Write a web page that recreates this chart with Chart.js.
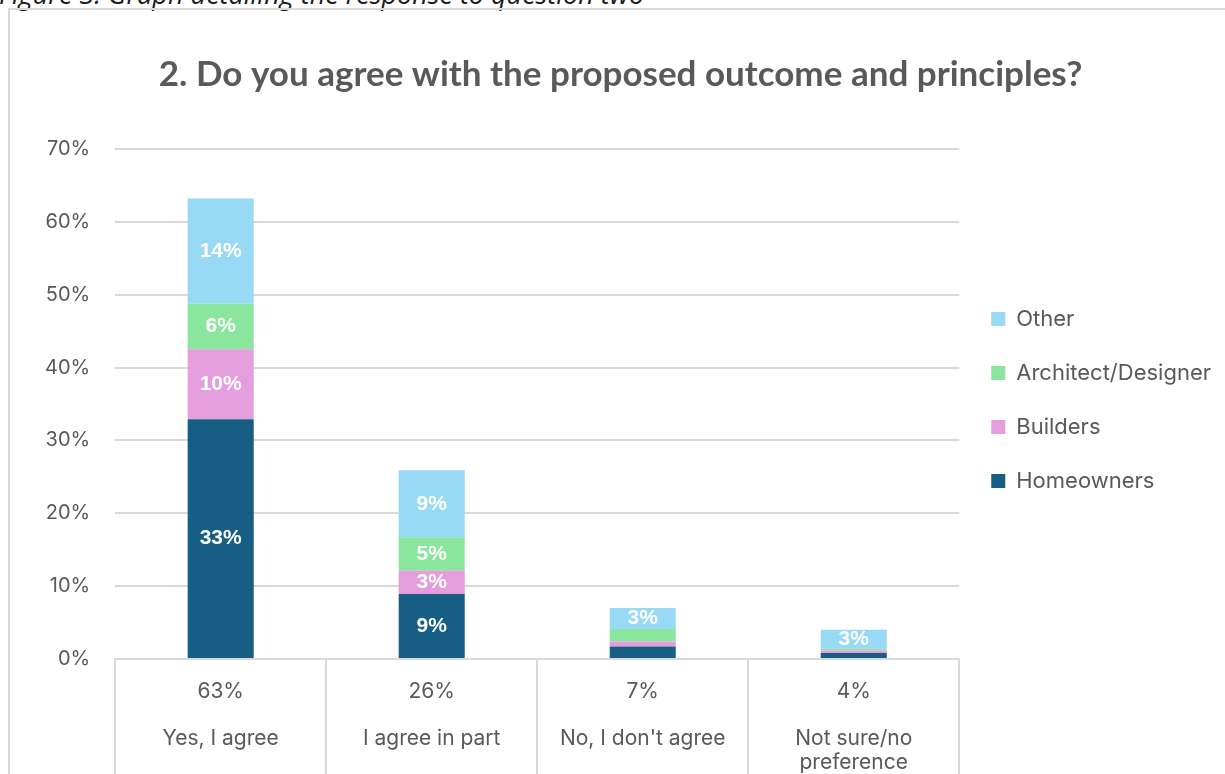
<!DOCTYPE html>
<html lang="en">
<head>
  <meta charset="UTF-8" />
  <title>Question two responses</title>
  <script src="https://cdn.jsdelivr.net/npm/chart.js"></script>
  <style>
    html, body {
      margin: 0;
      overflow: hidden;
      background: #fff;
    }
    .caption {
      position: absolute;
      left: -1px;
      top: -19px;
      font-family: "Open Sans", sans-serif;
      font-style: italic;
      font-size: 27px;
      line-height: 26px;
      color: #1a1a1a;
      white-space: nowrap;
    }
    .frame {
      position: absolute;
      left: 8px;
      top: 8px;
      width: 1300px;
      height: 900px;
      border: 2px solid #d9d9d9;
    }
    .chart-box {
      position: absolute;
      left: 0;
      top: 0;
      width: 1225px;
      height: 787px;
    }
  </style>
</head>
<body>
<div class="caption">Figure 3: Graph detailing the response to question two</div>
<div class="frame"></div>
<div class="chart-box">
  <canvas id="agreeChart"></canvas>
</div>

<script>
  // answers and share of respondents (%) per group
  const answers = ['Yes, I agree', 'I agree in part', "No, I don't agree", ['Not sure/no', 'preference']];
  const homeowners = [32.9, 8.9, 1.7, 0.8];
  const builders = [9.6, 3.2, 0.7, 0.35];
  const architects = [6.3, 4.6, 1.7, 0.25];
  const other = [14.4, 9.2, 2.9, 2.6];

  const yTicks = [0, 10, 20, 30, 40, 50, 60, 70];
  const grey = '#595959';
  const lineGrey = '#d9d9d9';

  // total per answer goes on the first line of the axis label
  const totals = answers.map((a, i) => homeowners[i] + builders[i] + architects[i] + other[i]);
  const axisLabels = answers.map((a, i) => [Math.round(totals[i]) + '%', ''].concat(a));

  // white % labels inside the bigger segments
  const segmentLabels = {
    id: 'segmentLabels',
    afterDatasetsDraw(chart) {
      const ctx = chart.ctx;
      ctx.save();
      ctx.font = 'bold 21px "Liberation Sans", Arial, sans-serif';
      ctx.fillStyle = '#ffffff';
      ctx.textAlign = 'center';
      ctx.textBaseline = 'middle';
      chart.data.datasets.forEach((ds, di) => {
        chart.getDatasetMeta(di).data.forEach((bar, i) => {
          const v = ds.data[i];
          if (v < 2.5) return;
          ctx.fillText(Math.round(v) + '%', bar.x, (bar.y + bar.base) / 2);
        });
      });
      ctx.restore();
    }
  };

  // table-style separators under the plot, on the category boundaries
  const tableLines = {
    id: 'tableLines',
    afterDraw(chart) {
      const x = chart.scales.x;
      const ctx = chart.ctx;
      ctx.save();
      ctx.strokeStyle = lineGrey;
      ctx.lineWidth = 2;
      for (let i = 0; i <= answers.length; i++) {
        const px = Math.round(x.getPixelForValue(i - 0.5));
        ctx.beginPath();
        ctx.moveTo(px, chart.chartArea.bottom);
        ctx.lineTo(px, chart.height);
        ctx.stroke();
      }
      ctx.restore();
    }
  };

  const ctx = document.getElementById('agreeChart').getContext('2d');
  new Chart(ctx, {
    type: 'bar',
    data: {
      labels: axisLabels,
      datasets: [
        { label: 'Homeowners', data: homeowners, backgroundColor: '#165e83' },
        { label: 'Builders', data: builders, backgroundColor: '#e49edd' },
        { label: 'Architect/Designer', data: architects, backgroundColor: '#8ae69c' },
        { label: 'Other', data: other, backgroundColor: '#98daf6' }
      ]
    },
    options: {
      responsive: true,
      maintainAspectRatio: false,
      animation: false,
      layout: { padding: { left: 20, right: 4, top: 0, bottom: 0 } },
      datasets: {
        bar: { categoryPercentage: 1, barPercentage: 0.313, borderWidth: 0 }
      },
      plugins: {
        title: {
          display: true,
          text: '2. Do you agree with the proposed outcome and principles?',
          color: grey,
          font: { family: 'Lato, sans-serif', size: 35, weight: 'bold', lineHeight: 1.2 },
          padding: { top: 54, bottom: 53 }
        },
        legend: {
          position: 'right',
          reverse: true,
          // empty title only pushes the items a little lower
          title: { display: true, text: '', font: { size: 1 }, padding: { top: 6, bottom: 6 } },
          labels: {
            color: grey,
            font: { family: 'Inter, sans-serif', size: 22 },
            boxWidth: 14,
            boxHeight: 14,
            padding: 32
          }
        },
        tooltip: { enabled: false }
      },
      scales: {
        x: {
          stacked: true,
          grid: { display: false },
          border: { display: true, color: lineGrey, width: 2 },
          ticks: {
            color: grey,
            padding: 13,
            maxRotation: 0,
            autoSkip: false,
            font: { family: 'Inter, sans-serif', size: 21, lineHeight: 1.12 }
          }
        },
        y: {
          stacked: true,
          min: 0,
          max: 70,
          afterBuildTicks(scale) {
            scale.ticks = yTicks.map(v => ({ value: v }));
          },
          grid: { color: lineGrey, lineWidth: 2, drawTicks: false },
          border: { display: false },
          ticks: {
            color: grey,
            padding: 25,
            font: { family: 'Inter, sans-serif', size: 20 },
            callback: v => v + '%'
          }
        }
      }
    },
    plugins: [segmentLabels, tableLines]
  });
</script>
</body>
</html>
